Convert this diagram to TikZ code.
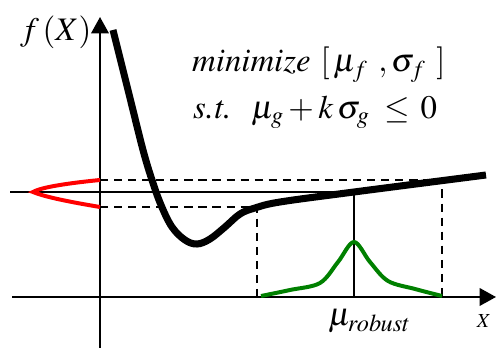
\documentclass[tikz,border=0pt]{standalone}
\usepackage{mathptmx}
\usetikzlibrary{arrows.meta,positioning}
\definecolor{pdfred}{RGB}{255,0,0}
\definecolor{pdfgreen}{RGB}{0,128,0}
\newcommand{\wrd}[1]{{\fontencoding{OT1}\fontfamily{ptm}\fontshape{it}\fontsize{28}{34}\selectfont #1}}

\begin{document}
\begin{tikzpicture}[x=0.03cm, y=-0.03cm,
  axis/.style={line width=1.7pt},
  guide/.style={line width=1.7pt, dash pattern=on 7pt off 5pt},
  tip/.style={-{Triangle[length=14pt,width=15pt]}},
  every node/.style={font=\fontsize{28}{34}\selectfont, inner sep=0pt}]
  \useasboundingbox (0,0) rectangle (496,348);
  \coordinate (xs) at (12,297); \coordinate (xe) at (496,297);
  \coordinate (ys) at (100,348); \coordinate (ye) at (100,17);
  \coordinate (hi) at (100,180); \coordinate (lo) at (100,207); \coordinate (mid) at (10,192);
  \coordinate (lft) at (257,297); \coordinate (rgt) at (442,297); \coordinate (rob) at (354,297);
  \draw[axis,tip] (xs) -- (xe); \draw[axis,tip] (ys) -- (ye);
  \draw[guide] (hi) -- (hi -| rgt) -- (rgt); \draw[guide] (lo) -- (lo -| lft) -- (lft);
  \draw[axis] (mid) -- (mid -| rob) -- (rob);
  \draw[pdfred, line width=3.4pt] (hi) .. controls (60,184) and (40,188) .. (33,192) .. controls (45,197) and (70,202) .. (lo);
  \draw[pdfgreen, line width=3.4pt] plot[smooth, tension=0.55] coordinates {(261,296) (290,290) (320,283) (338,262) (354,242) (370,262) (388,281) (415,289) (442,296)};
  \draw[line width=6pt] plot[smooth, tension=0.6] coordinates {(113,30) (130,98) (143,150) (152,180) (161,205) (172,227) (185,240) (197,244) (210,239) (225,227) (240,214) (255,208) (280,202) (354,192) (486,175)};
  \node[anchor=base west] (fx) at (20,41) {$f\,(X)$};
  \node[anchor=base west] (goal) at (192,72) {\wrd{minimize}\ $[\,\mu_f\;\,,\sigma_f\;\,]$};
  \node[anchor=base west] (cons) at (193,119) {\wrd{s.t.}\ \ $\mu_g+k\,\sigma_g\;\le\,0$};
  \node[anchor=base west] (murob) at (328,326) {$\mu_{robust}$};
  \node[anchor=base, font=\fontsize{17}{20}\selectfont] (xlab) at (484,328) {$X$};
\end{tikzpicture}
\end{document}
